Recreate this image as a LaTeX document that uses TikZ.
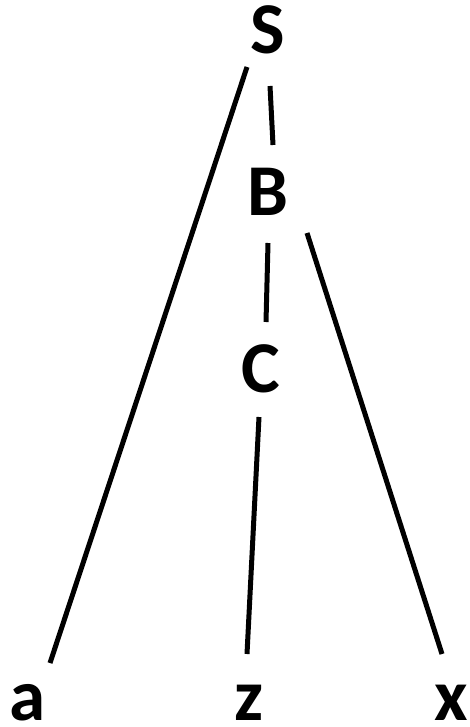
\documentclass[tikz,border=0pt]{standalone}
\usepackage{fontspec}
\setmainfont{Carlito}
\begin{document}
\begin{tikzpicture}[x=1pt,y=-1pt,
  lab/.style={anchor=base,inner sep=0pt,font=\fontsize{73}{80}\selectfont\bfseries},
  edge/.style={line width=5pt}]
\useasboundingbox (0,0) rectangle (470,727);
\node[lab] (S) at (268,54) {S};
\node[lab] (B) at (268,215) {B};
\node[lab] (C) at (261,392) {C};
\node[lab] (a) at (28,720) {a};
\node[lab] (z) at (249,720) {z};
\node[lab] (x) at (451,720) {x};
\draw[edge] ([shift={(-21,13)}]S.base) -- ([shift={(22,-57)}]a.base);
\draw[edge] ([shift={(2,32)}]S.base) -- ([shift={(5,-70)}]B.base);
\draw[edge] ([shift={(0,28)}]B.base) -- ([shift={(5,-70)}]C.base);
\draw[edge] ([shift={(39,18)}]B.base) -- ([shift={(-9,-66)}]x.base);
\draw[edge] ([shift={(-2,25)}]C.base) -- ([shift={(-2,-66)}]z.base);
\end{tikzpicture}
\end{document}
